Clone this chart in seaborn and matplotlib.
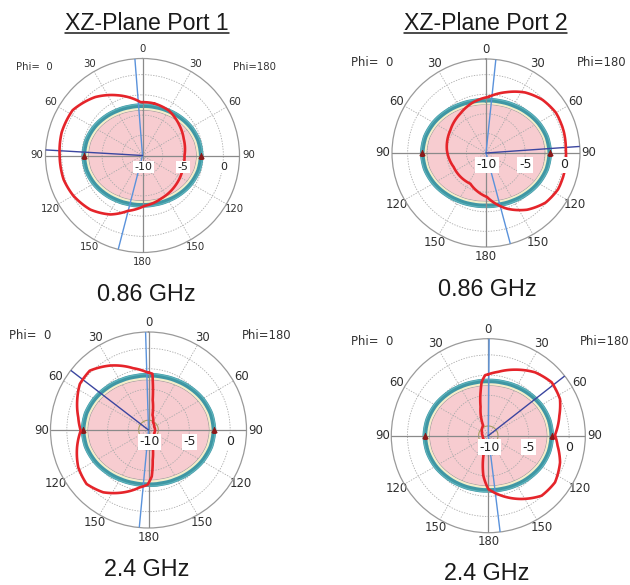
import numpy as np
import pandas as pd
import matplotlib
matplotlib.use("Agg")
import matplotlib.pyplot as plt
import seaborn as sns
from matplotlib.lines import Line2D

# ---------------- data ----------------
titles = ["XZ-Plane Port 1", "XZ-Plane Port 2"]
freq_labels = ["0.86 GHz", "0.86 GHz", "2.4 GHz", "2.4 GHz"]
theta_ticks = [0, 30, 60, 90, 120, 150, 180, 210, 240, 270, 300, 330]
theta_tick_labels = ["0", "30", "60", "90", "120", "150", "180",
                     "150", "120", "90", "60", "30"]
radial_grid = [-7.5, -5, -2.5, 0]
radial_labels = [-10, -5, 0]
r_min, r_max = -10, 2

# realized-gain cuts (deg, clockwise from top; dB)
p1_theta = [12.7, 30, 50.7, 68, 90, 108.4, 131.8, 156, 178, 195, 208.5, 224,
            240, 253, 270, 286, 303, 321, 337, 358]
p1_gain = [-3.4, -3.55, -4.1, -4.5, -4.8, -4.75, -4.5, -4.2, -3.75, -2.9, -1.7,
           -0.7, -0.1, 0.2, 0.25, 0.4, 0.3, -0.7, -1.9, -3.4]

p2_theta = [2.7, 18.7, 32.9, 46.6, 60.1, 74.4, 88.1, 104.3, 116.7, 129.7, 144.1,
            159.3, 178.7, 207, 246.6, 274, 302.5, 326.8, 346.4]
p2_gain = [-2.83, -1.8, -0.8, -0.1, 0.3, 0.3, 0.2, 0.3, 0.3, -0.1, -1.06, -2.4,
           -4.38, -5.6, -5.5, -5.0, -4.6, -4.0, -3.3]

p3_theta = [0, 4, 5, 8, 15, 30, 60, 90, 120, 150, 165, 172, 176, 181, 188.6, 202,
            216, 228.9, 242, 256.4, 269.4, 280.2, 292.3, 303.8, 315.3, 329, 346, 358]
p3_gain = [-2.95, -3.1, -4.0, -6.3, -8.1, -8.9, -9.2, -9.2, -9.2, -8.9, -8.1, -6.3,
           -4.3, -3.3, -2.9, -1.76, -0.57, 0.06, -0.26, -1.0, -1.7, -1.26, -0.56,
           0.12, 0.22, -0.8, -2.2, -2.9]

p4_theta = [0, 8.9, 22, 36.4, 49.9, 62.9, 74.3, 89.4, 98.2, 110.4, 125, 138.4,
            152.2, 167.5, 180, 187, 194, 207, 240, 270, 300, 333, 345, 350, 353, 357]
p4_gain = [-2.4, -2.0, -1.19, -0.26, 0.25, -0.04, -0.87, -1.75, -1.34, -0.53, 0.07,
           -0.07, -1.15, -2.4, -3.4, -5.0, -7.5, -8.8, -9.3, -9.3, -9.1, -8.6, -6.3,
           -4.5, -3.3, -2.5]

# reference (shaded) pattern outline, 15 deg steps
ellipse_theta = list(range(0, 360, 15))
p1_ellipse = [-3.56, -3.50, -3.33, -3.07, -2.78, -2.54, -2.45, -2.54, -2.78, -3.07, -3.33, -3.50,
              -3.56, -3.50, -3.33, -3.07, -2.78, -2.54, -2.45, -2.54, -2.78, -3.07, -3.33, -3.50]
p2_ellipse = [-2.98, -2.90, -2.69, -2.37, -2.00, -1.69, -1.57, -1.69, -2.00, -2.37, -2.69, -2.90,
              -2.98, -2.90, -2.69, -2.37, -2.00, -1.69, -1.57, -1.69, -2.00, -2.37, -2.69, -2.90]
p3_ellipse = [-3.02, -2.95, -2.75, -2.45, -2.10, -1.81, -1.70, -1.81, -2.10, -2.45, -2.75, -2.95,
              -3.02, -2.95, -2.75, -2.45, -2.10, -1.81, -1.70, -1.81, -2.10, -2.45, -2.75, -2.95]
p4_ellipse = [-2.95, -2.89, -2.71, -2.46, -2.17, -1.95, -1.86, -1.95, -2.17, -2.46, -2.71, -2.89,
              -2.95, -2.89, -2.71, -2.46, -2.17, -1.95, -1.86, -1.95, -2.17, -2.46, -2.71, -2.89]

main_lobe_dir = [273.3, 86.0, 307.5, 52.0]
beam_edges = [[355.5, 194.5], [6.0, 165.0], [358.3, 185.4], [0.5, 173.0]]
small_ring = [None, None, -8.8, -8.8]

# ---------------- layout ----------------
W, H = 630, 585
# (center x, center y, radius) in pixels, y from top
geom = [(142.5, 155.5, 97), (486.0, 153.0, 94), (148.5, 430.0, 98), (488.3, 435.7, 97)]
phi_pos = [(-0.059, 0.956, 1.075), (-0.106, 0.984, 1.117),
           (-0.102, 0.981, 1.105), (-0.097, 0.985, 1.100)]
fsizes = [7.3, 8.4, 8.4, 8.4]
sub_pos = [(146.7, 301.5), (487.5, 296.5), (146.7, 576.5), (486.5, 580.0)]

sns.set_theme(style="white")
plt.rcParams['font.family'] = ['DejaVu Sans']

fig = plt.figure(figsize=(W / 100, H / 100), dpi=100)

gains = [(p1_theta, p1_gain), (p2_theta, p2_gain), (p3_theta, p3_gain), (p4_theta, p4_gain)]
ellipses = [p1_ellipse, p2_ellipse, p3_ellipse, p4_ellipse]


def smooth_polar(artist, steps=24):
    # draw segments as straight lines in (theta, r) space
    artist.get_path()._interpolation_steps = steps


grid_col = "#ababab"
for i in range(4):
    cx, cy, R = geom[i]
    ax = fig.add_axes([(cx - R) / W, (H - cy - R) / H, 2 * R / W, 2 * R / H],
                      projection="polar")
    ax.set_theta_zero_location("N")
    ax.set_theta_direction(-1)
    ax.set_ylim(r_min, r_max)
    ax.set_axisbelow('line')
    ax.set_facecolor("white")
    fs = fsizes[i]

    ax.set_thetagrids(theta_ticks, theta_tick_labels)
    ax.set_rgrids(radial_grid, labels=[""] * len(radial_grid))
    ax.grid(True, color=grid_col, ls=(0, (1.6, 1.6)), lw=0.6)
    ax.tick_params(axis="x", labelsize=fs, labelcolor="#2e2e2e", pad=-0.5, size=0)
    ax.spines["polar"].set_edgecolor("#9a9a9a")
    ax.spines["polar"].set_linewidth(0.9)

    # shaded reference pattern
    eth = np.deg2rad(ellipse_theta + [ellipse_theta[0] + 360])
    er = np.array(ellipses[i] + [ellipses[i][0]])
    for p in ax.fill(eth, er - 0.55, color="#f7ccd0", zorder=1, lw=0):
        smooth_polar(p)
    for off, col, lw in [(0.85, "#9c9c9c", 0.5), (0.68, "#f3efc9", 1.5),
                         (0.28, "#3f97a4", 3.3), (0.12, "#5fb4bd", 0.8)]:
        ln, = ax.plot(eth, er - off, color=col, lw=lw, zorder=2)
        smooth_polar(ln)
    if small_ring[i] is not None:
        rt = np.linspace(0, 2 * np.pi, 120)
        ax.plot(rt, np.full_like(rt, small_ring[i]), color="#a89f62", lw=0.8, zorder=2)

    # main axes lines
    for a in (0, 90, 180, 270):
        ax.plot([np.deg2rad(a)] * 2, [r_min, r_max], color="#8a8a8a", lw=0.9, zorder=3)

    # beam lines
    for a in beam_edges[i]:
        ax.plot([np.deg2rad(a)] * 2, [r_min, r_max], color="#5a92db", lw=1.0, zorder=4)
    ax.plot([np.deg2rad(main_lobe_dir[i])] * 2, [r_min, r_max], color="#3b46a0", lw=1.0, zorder=4)

    # markers on reference pattern
    e90 = ellipses[i][6]
    ax.plot(np.deg2rad([90, 270]), [e90 - 0.3, e90 - 0.3], ls="none", marker="^",
            ms=3.5, color="#8a1a1a", zorder=4)

    # gain curve
    th, g = gains[i]
    df = pd.DataFrame({"theta": np.deg2rad(th + [th[0] + 360]), "gain": g + [g[0]]})
    n_before = len(ax.lines)
    sns.lineplot(data=df, x="theta", y="gain", sort=False, estimator=None,
                 color="#e5242a", lw=1.9, ax=ax, zorder=5)
    for ln in ax.lines[n_before:]:
        smooth_polar(ln)
    ax.set_xlabel("")
    ax.set_ylabel("")
    ax.set_ylim(r_min, r_max)

    # radial labels
    for v in radial_labels:
        ax.annotate(f"{v}", xy=(np.pi / 2, v), xytext=(0 if v != -10 else 1, -11.5),
                    textcoords="offset pixels", ha="center", va="center",
                    fontsize=fs + 0.6, color="#222222", zorder=6,
                    bbox=dict(boxstyle="square,pad=0.12", fc="white", ec="none"))

    px, py, px2 = phi_pos[i]
    ax.text(px, py, "Phi=  0", transform=ax.transAxes, ha="center", va="center",
            fontsize=fs, color="#333333")
    ax.text(px2, py, "Phi=180", transform=ax.transAxes, ha="center", va="center",
            fontsize=fs, color="#333333")

    sx, sy = sub_pos[i]
    fig.text(sx / W, 1 - sy / H, freq_labels[i], ha="center", va="baseline",
             fontsize=16.8, color="#1a1a1a", family=["Liberation Sans", "DejaVu Sans"])

# titles with underline
title_x = [147.0, 485.5]
tobjs = []
for tx, t in zip(title_x, titles):
    tobjs.append(fig.text(tx / W, 1 - 30.0 / H, t, ha="center", va="baseline",
                          fontsize=16.6, color="#1a1a1a",
                          family=["Liberation Sans", "DejaVu Sans"]))
fig.canvas.draw()
r = fig.canvas.get_renderer()
for t in tobjs:
    bb = t.get_window_extent(renderer=r)
    yl = (H - 32.5) / H
    fig.add_artist(Line2D([bb.x0 / W, bb.x1 / W], [yl, yl], transform=fig.transFigure,
                          color="#1a1a1a", lw=1.1))

fig.savefig("out.png", dpi=100)
